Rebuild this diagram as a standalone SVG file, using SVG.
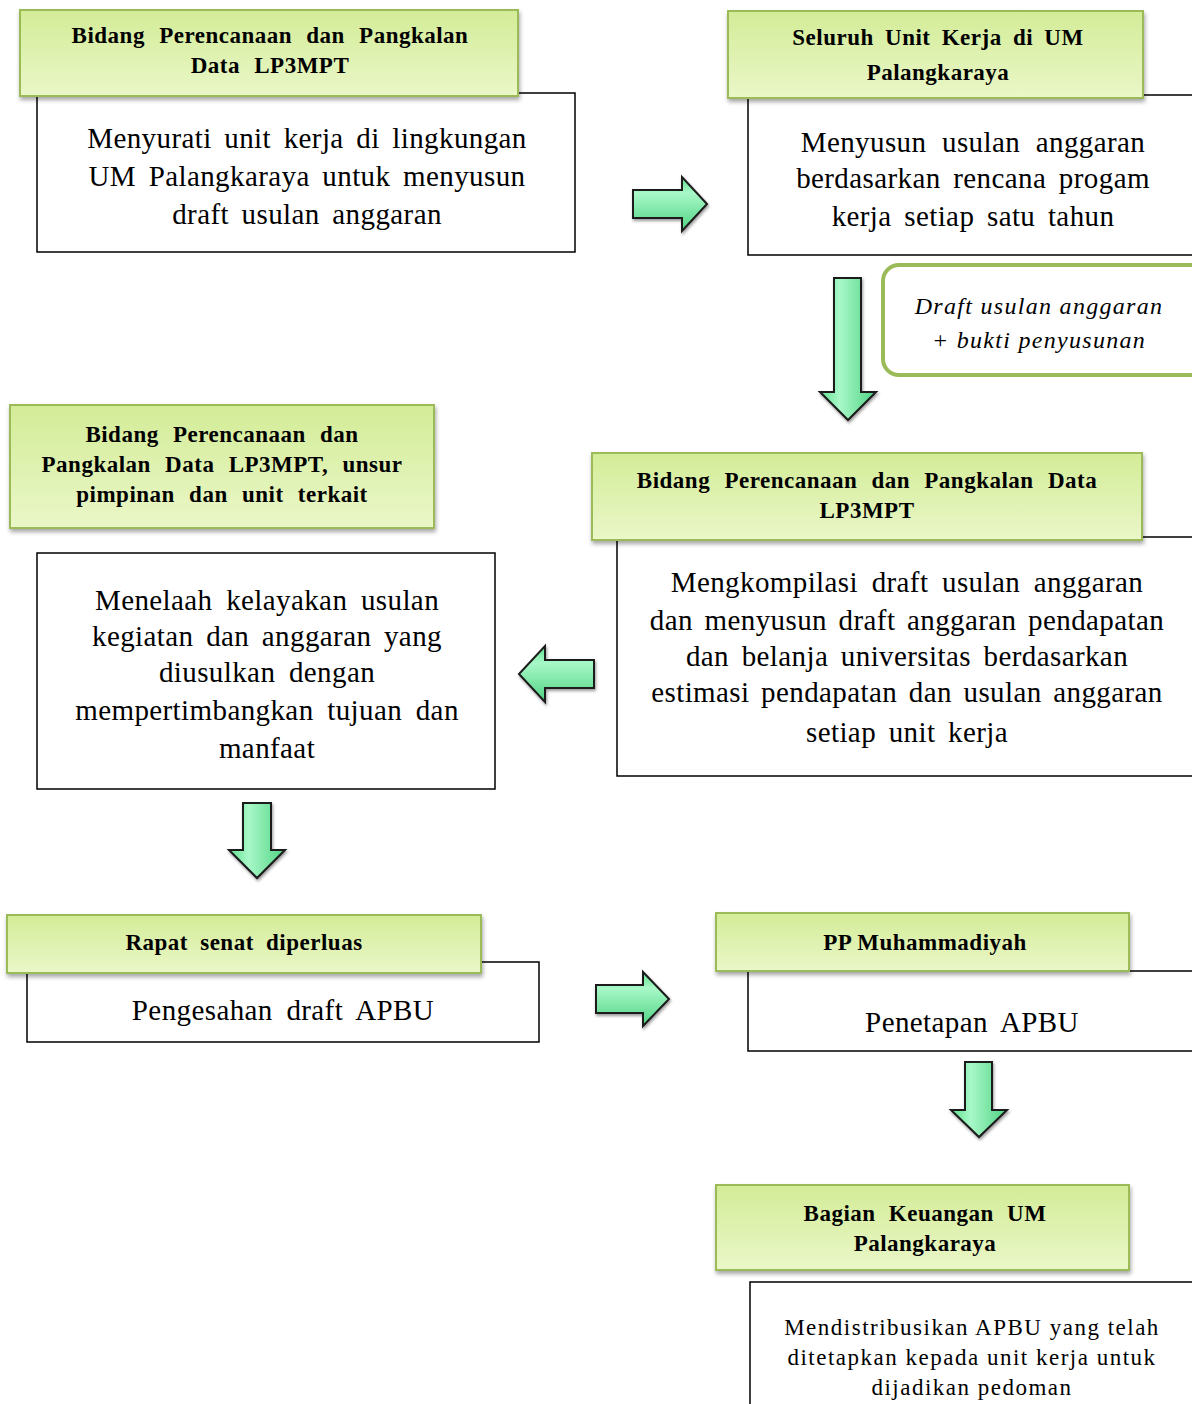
<svg xmlns="http://www.w3.org/2000/svg" width="1192" height="1404" viewBox="0 0 1192 1404">
<defs>
<linearGradient id="hdr" x1="0" y1="0" x2="0" y2="1">
<stop offset="0" stop-color="#d3ec97"/>
<stop offset="1" stop-color="#eaf7c8"/>
</linearGradient>
<linearGradient id="arrH" x1="0" y1="0" x2="0" y2="1">
<stop offset="0" stop-color="#5fe08e"/>
<stop offset="0.3" stop-color="#a8f8c8"/>
<stop offset="1" stop-color="#4fd382"/>
</linearGradient>
<linearGradient id="arrV" x1="0" y1="0" x2="1" y2="0">
<stop offset="0" stop-color="#5fe08e"/>
<stop offset="0.35" stop-color="#a8f8c8"/>
<stop offset="1" stop-color="#4fd382"/>
</linearGradient>
<filter id="sh" x="-10%" y="-10%" width="120%" height="130%">
<feDropShadow dx="1" dy="3" stdDeviation="2" flood-color="#000" flood-opacity="0.35"/>
</filter>
<filter id="ash" x="-20%" y="-20%" width="140%" height="140%">
<feDropShadow dx="1" dy="2" stdDeviation="1.5" flood-color="#000" flood-opacity="0.4"/>
</filter>
</defs>
<style>
text{font-family:"Liberation Serif","Times New Roman",Times,serif;fill:#000;text-anchor:middle}
.box{fill:#fff;stroke:#000;stroke-width:1.5}
.hdr{fill:url(#hdr);stroke:#9bbb59;stroke-width:2;filter:url(#sh)}
.ht{font-weight:bold;font-size:23px;letter-spacing:0.5px}
.bt{font-size:29px;letter-spacing:0.4px}
.st{font-size:23px;letter-spacing:1.5px}
.it{font-style:italic;font-size:24px;letter-spacing:1.3px}
.ah{fill:url(#arrH);stroke:#1a1a1a;stroke-width:2;stroke-linejoin:miter;filter:url(#ash)}
.av{fill:url(#arrV);stroke:#1a1a1a;stroke-width:2;stroke-linejoin:miter;filter:url(#ash)}
</style>
<rect width="1192" height="1404" fill="#fff"/>

<g id="node1">
<rect class="box" x="37" y="93" width="538" height="159"/>
<rect class="hdr" x="20" y="10" width="498" height="86"/>
<text class="ht" x="270" y="43" word-spacing="8">Bidang Perencanaan dan Pangkalan</text>
<text class="ht" x="270" y="73" word-spacing="8">Data LP3MPT</text>
<text class="bt" x="307" y="148" word-spacing="5">Menyurati unit kerja di lingkungan</text>
<text class="bt" x="307" y="186" word-spacing="5">UM Palangkaraya untuk menyusun</text>
<text class="bt" x="307" y="224" word-spacing="5">draft usulan anggaran</text>
</g>

<g id="node2">
<rect class="box" x="748" y="95" width="460" height="160"/>
<rect class="hdr" x="728" y="11" width="415" height="87"/>
<text class="ht" x="938" y="45" word-spacing="5">Seluruh Unit Kerja di UM</text>
<text class="ht" x="938" y="80">Palangkaraya</text>
<text class="bt" x="973" y="152" word-spacing="8">Menyusun usulan anggaran</text>
<text class="bt" x="973" y="188" word-spacing="5">berdasarkan rencana progam</text>
<text class="bt" x="973" y="226" word-spacing="5">kerja setiap satu tahun</text>
</g>

<g id="note">
<rect x="883" y="265" width="330" height="110" rx="16" ry="16" fill="#fff" stroke="#9bbb59" stroke-width="4"/>
<text class="it" x="1039" y="314">Draft usulan anggaran</text>
<text class="it" x="1039" y="348">+ bukti penyusunan</text>
</g>

<g id="node3">
<rect class="box" x="617" y="537" width="591" height="239"/>
<rect class="hdr" x="592" y="453" width="550" height="87"/>
<text class="ht" x="867" y="488" word-spacing="8">Bidang Perencanaan dan Pangkalan Data</text>
<text class="ht" x="867" y="518">LP3MPT</text>
<text class="bt" x="907" y="592" word-spacing="6">Mengkompilasi draft usulan anggaran</text>
<text class="bt" x="907" y="630" word-spacing="4">dan menyusun draft anggaran pendapatan</text>
<text class="bt" x="907" y="666" word-spacing="5">dan belanja universitas berdasarkan</text>
<text class="bt" x="907" y="702" word-spacing="4">estimasi pendapatan dan usulan anggaran</text>
<text class="bt" x="907" y="742" word-spacing="5">setiap unit kerja</text>
</g>

<g id="node4">
<rect class="box" x="37" y="553" width="458" height="236"/>
<rect class="hdr" x="10" y="405" width="424" height="123"/>
<text class="ht" x="222" y="442" word-spacing="8">Bidang Perencanaan dan</text>
<text class="ht" x="222" y="472" word-spacing="8">Pangkalan Data LP3MPT, unsur</text>
<text class="ht" x="222" y="502" word-spacing="8">pimpinan dan unit terkait</text>
<text class="bt" x="267" y="610" word-spacing="6">Menelaah kelayakan usulan</text>
<text class="bt" x="267" y="646" word-spacing="5">kegiatan dan anggaran yang</text>
<text class="bt" x="267" y="682" word-spacing="6">diusulkan dengan</text>
<text class="bt" x="267" y="720" word-spacing="6">mempertimbangkan tujuan dan</text>
<text class="bt" x="267" y="758">manfaat</text>
</g>

<g id="node5">
<rect class="box" x="27" y="962" width="512" height="80"/>
<rect class="hdr" x="7" y="915" width="474" height="58"/>
<text class="ht" x="244" y="950" word-spacing="6">Rapat senat diperluas</text>
<text class="bt" x="283" y="1020" word-spacing="6">Pengesahan draft APBU</text>
</g>

<g id="node6">
<rect class="box" x="748" y="971" width="460" height="80"/>
<rect class="hdr" x="716" y="913" width="413" height="58"/>
<text class="ht" x="925" y="950">PP Muhammadiyah</text>
<text class="bt" x="972" y="1032" word-spacing="6">Penetapan APBU</text>
</g>

<g id="node7">
<rect class="box" x="750" y="1282" width="458" height="140"/>
<rect class="hdr" x="716" y="1185" width="413" height="85"/>
<text class="ht" x="925" y="1221" word-spacing="7">Bagian Keuangan UM</text>
<text class="ht" x="925" y="1251">Palangkaraya</text>
<text class="st" x="972" y="1335">Mendistribusikan APBU yang telah</text>
<text class="st" x="972" y="1365">ditetapkan kepada unit kerja untuk</text>
<text class="st" x="972" y="1395">dijadikan pedoman</text>
</g>

<g id="connectors">
<path class="ah" d="M633,190 H682 V177 L707,204 L682,231 V218 H633 Z"/>
<path class="av" d="M834,278 H861 V392 H876 L848,420 L820,392 H834 Z"/>
<path class="ah" d="M594,660 H545 V646 L519,674 L545,702 V688 H594 Z"/>
<path class="av" d="M243,803 H271 V850 H285 L257,878 L229,850 H243 Z"/>
<path class="ah" d="M596,985 H643 V972 L669,999 L643,1026 V1013 H596 Z"/>
<path class="av" d="M965,1062 H992 V1110 H1007 L979,1137 L951,1110 H965 Z"/>
</g>
</svg>
